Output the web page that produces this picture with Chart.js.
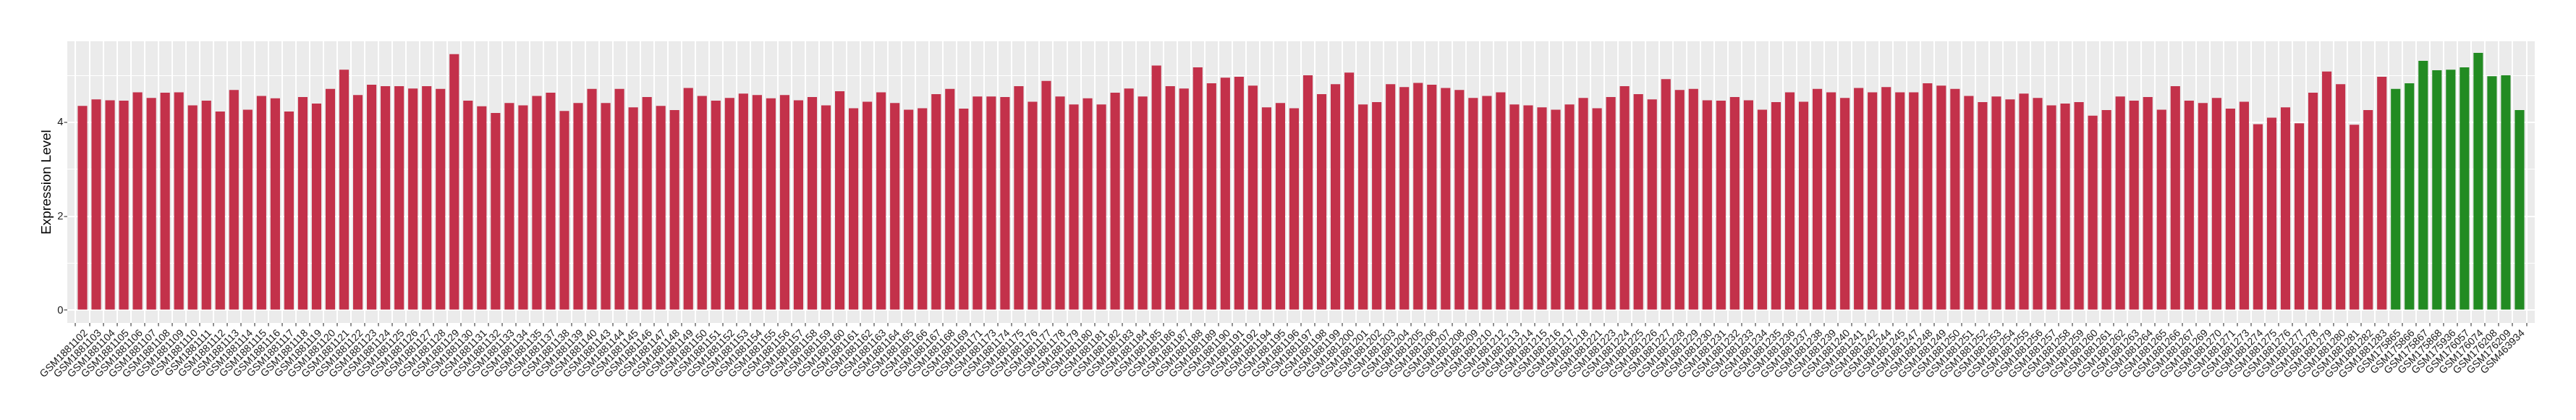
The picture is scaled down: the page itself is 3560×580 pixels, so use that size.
<!DOCTYPE html>
<html>
<head>
<meta charset="utf-8">
<script src="https://cdn.jsdelivr.net/npm/chart.js@4.4.1/dist/chart.umd.min.js"></script>
<style>
  html, body { margin: 0; padding: 0; background: #fff; }
  #wrap { width: 3560px; height: 580px; position: relative; }
</style>
</head>
<body>
<div id="wrap"><canvas id="chart"></canvas></div>
<script>
const tumorSamples = [
  'GSM1881102','GSM1881103','GSM1881104','GSM1881105','GSM1881106','GSM1881107','GSM1881108','GSM1881109','GSM1881110','GSM1881111',
  'GSM1881112','GSM1881113','GSM1881114','GSM1881115','GSM1881116','GSM1881117','GSM1881118','GSM1881119','GSM1881120','GSM1881121',
  'GSM1881122','GSM1881123','GSM1881124','GSM1881125','GSM1881126','GSM1881127','GSM1881128','GSM1881129','GSM1881130','GSM1881131',
  'GSM1881132','GSM1881133','GSM1881134','GSM1881135',
  'GSM1881137','GSM1881138','GSM1881139','GSM1881140',
  'GSM1881143','GSM1881144','GSM1881145','GSM1881146','GSM1881147','GSM1881148','GSM1881149','GSM1881150','GSM1881151','GSM1881152',
  'GSM1881153','GSM1881154','GSM1881155','GSM1881156','GSM1881157','GSM1881158','GSM1881159','GSM1881160','GSM1881161','GSM1881162',
  'GSM1881163','GSM1881164','GSM1881165','GSM1881166','GSM1881167','GSM1881168','GSM1881169',
  'GSM1881171',
  'GSM1881173','GSM1881174','GSM1881175','GSM1881176','GSM1881177','GSM1881178','GSM1881179','GSM1881180','GSM1881181','GSM1881182',
  'GSM1881183','GSM1881184','GSM1881185','GSM1881186','GSM1881187','GSM1881188','GSM1881189','GSM1881190','GSM1881191','GSM1881192',
  'GSM1881194','GSM1881195','GSM1881196','GSM1881197','GSM1881198','GSM1881199','GSM1881200','GSM1881201','GSM1881202','GSM1881203',
  'GSM1881204','GSM1881205','GSM1881206','GSM1881207','GSM1881208','GSM1881209','GSM1881210',
  'GSM1881212','GSM1881213','GSM1881214','GSM1881215','GSM1881216','GSM1881217','GSM1881218',
  'GSM1881221',
  'GSM1881223','GSM1881224','GSM1881225','GSM1881226','GSM1881227','GSM1881228','GSM1881229','GSM1881230','GSM1881231','GSM1881232',
  'GSM1881233','GSM1881234','GSM1881235','GSM1881236','GSM1881237','GSM1881238','GSM1881239','GSM1881240','GSM1881241','GSM1881242',
  'GSM1881244','GSM1881245',
  'GSM1881247','GSM1881248','GSM1881249','GSM1881250','GSM1881251','GSM1881252','GSM1881253','GSM1881254','GSM1881255','GSM1881256',
  'GSM1881257','GSM1881258','GSM1881259','GSM1881260','GSM1881261','GSM1881262','GSM1881263','GSM1881264','GSM1881265','GSM1881266',
  'GSM1881267',
  'GSM1881269','GSM1881270','GSM1881271',
  'GSM1881273','GSM1881274','GSM1881275','GSM1881276','GSM1881277','GSM1881278','GSM1881279','GSM1881280','GSM1881281','GSM1881282',
  'GSM1881283'
]
const tumorValues = [
  4.35, 4.49, 4.47, 4.46, 4.64, 4.52, 4.63, 4.64, 4.36, 4.46,
  4.23, 4.69, 4.27, 4.56, 4.51, 4.23, 4.54, 4.40, 4.71, 5.12,
  4.58, 4.80, 4.77, 4.77, 4.72, 4.77, 4.71, 5.45, 4.46, 4.34,
  4.20, 4.41, 4.36, 4.56,
  4.63, 4.24, 4.41, 4.71,
  4.41, 4.71, 4.32, 4.54, 4.35, 4.26, 4.73, 4.56, 4.46, 4.52,
  4.61, 4.58, 4.51, 4.58, 4.47, 4.54, 4.36, 4.66, 4.30, 4.44,
  4.64, 4.41, 4.27, 4.30, 4.60, 4.71, 4.29,
  4.55,
  4.55, 4.54, 4.77, 4.44, 4.88, 4.55, 4.38, 4.51, 4.38, 4.63,
  4.72, 4.55, 5.21, 4.77, 4.72, 5.17, 4.83, 4.95, 4.97, 4.78,
  4.32, 4.41, 4.30, 5.00, 4.60, 4.81, 5.06, 4.38, 4.43, 4.81,
  4.75, 4.84, 4.80, 4.73, 4.69, 4.52, 4.56,
  4.64, 4.38, 4.36, 4.32, 4.27, 4.38, 4.52,
  4.30,
  4.54, 4.77, 4.60, 4.49, 4.92, 4.69, 4.71, 4.47, 4.46, 4.54,
  4.47, 4.27, 4.43, 4.64, 4.44, 4.71, 4.64, 4.52, 4.73, 4.64,
  4.75, 4.64,
  4.64, 4.83, 4.78, 4.71, 4.56, 4.43, 4.55, 4.49, 4.61, 4.52,
  4.36, 4.40, 4.43, 4.14, 4.26, 4.55, 4.46, 4.54, 4.27, 4.77,
  4.46,
  4.41, 4.52, 4.29,
  4.44, 3.96, 4.10, 4.32, 3.98, 4.63, 5.08, 4.81, 3.95, 4.26,
  4.97
]
const normalSamples = ['GSM175865','GSM175866','GSM175867','GSM175868','GSM175936','GSM176057','GSM176074','GSM176208','GSM176209','GSM463934']
const normalValues = [4.71, 4.83, 5.31, 5.11, 5.12, 5.17, 5.48, 4.98, 5.00, 4.26]

const yMajorTicks = [0, 2, 4]
const yMinorTicks = [1, 3, 5]

const samples = tumorSamples.concat(normalSamples)
const values = tumorValues.concat(normalValues)

const TUMOR = '#C3314A'
const NORMAL = '#228B22'
const FONT = '"Liberation Sans", Arial, Helvetica, sans-serif'

// grey ggplot-like panel behind the grid
const panelBg = {
  id: 'panelBg',
  beforeDraw (chart) {
    const { ctx, chartArea: a } = chart
    ctx.save()
    ctx.fillStyle = '#EBEBEB'
    ctx.fillRect(a.left, a.top, a.right - a.left, a.bottom - a.top)
    ctx.restore()
  }
}

const ctx = document.getElementById('chart')
new Chart(ctx, {
  type: 'bar',
  data: {
    datasets: [{
      data: values.map((v, i) => ({ x: i, y: v })),
      backgroundColor: (c) => c.dataIndex < tumorSamples.length ? TUMOR : NORMAL,
      barPercentage: 0.69,
      categoryPercentage: 1,
      borderWidth: 0
    }]
  },
  options: {
    animation: false,
    responsive: true,
    maintainAspectRatio: false,
    layout: { padding: { top: 57, right: 57, left: 0, bottom: 0 } },
    plugins: {
      legend: { display: false },
      tooltip: { enabled: false }
    },
    scales: {
      x: {
        type: 'linear',
        min: -0.6,
        max: samples.length - 1 + 0.6,
        border: { display: false },
        grid: {
          color: '#FFFFFF',
          lineWidth: 2,
          drawTicks: true,
          tickLength: 4.5,
          tickColor: '#333333',
          tickWidth: 1.1
        },
        ticks: {
          autoSkip: false,
          minRotation: 45,
          maxRotation: 45,
          padding: 1.5,
          labelOffset: 5,
          color: '#1A1A1A',
          font: { family: FONT, size: 14.2 },
          callback: (v) => samples[v]
        },
        afterBuildTicks (scale) {
          scale.ticks = samples.map((s, i) => ({ value: i }))
        },
        afterFit (scale) { scale.height = 134 }
      },
      y: {
        min: -0.27,
        max: 5.725,
        border: { display: false },
        grid: {
          color: '#FFFFFF',
          lineWidth: (c) => yMajorTicks.includes(c.tick.value) ? 2 : 1,
          drawTicks: true,
          tickLength: 4.5,
          tickColor: (c) => yMajorTicks.includes(c.tick.value) ? '#333333' : 'rgba(0,0,0,0)',
          tickWidth: 1.1
        },
        ticks: {
          padding: 1,
          color: '#1A1A1A',
          font: { family: FONT, size: 14.8 },
          callback: (v) => yMajorTicks.includes(v) ? String(v) : ''
        },
        afterBuildTicks (scale) {
          scale.ticks = yMajorTicks.concat(yMinorTicks).sort((a, b) => a - b).map(v => ({ value: v }))
        },
        afterFit (scale) { scale.width = 93 },
        title: {
          display: true,
          text: 'Expression Level',
          color: '#000000',
          font: { family: FONT, size: 19 },
          padding: { top: 52.9, bottom: 0 }
        }
      }
    }
  },
  plugins: [panelBg]
})
</script>
</body>
</html>
